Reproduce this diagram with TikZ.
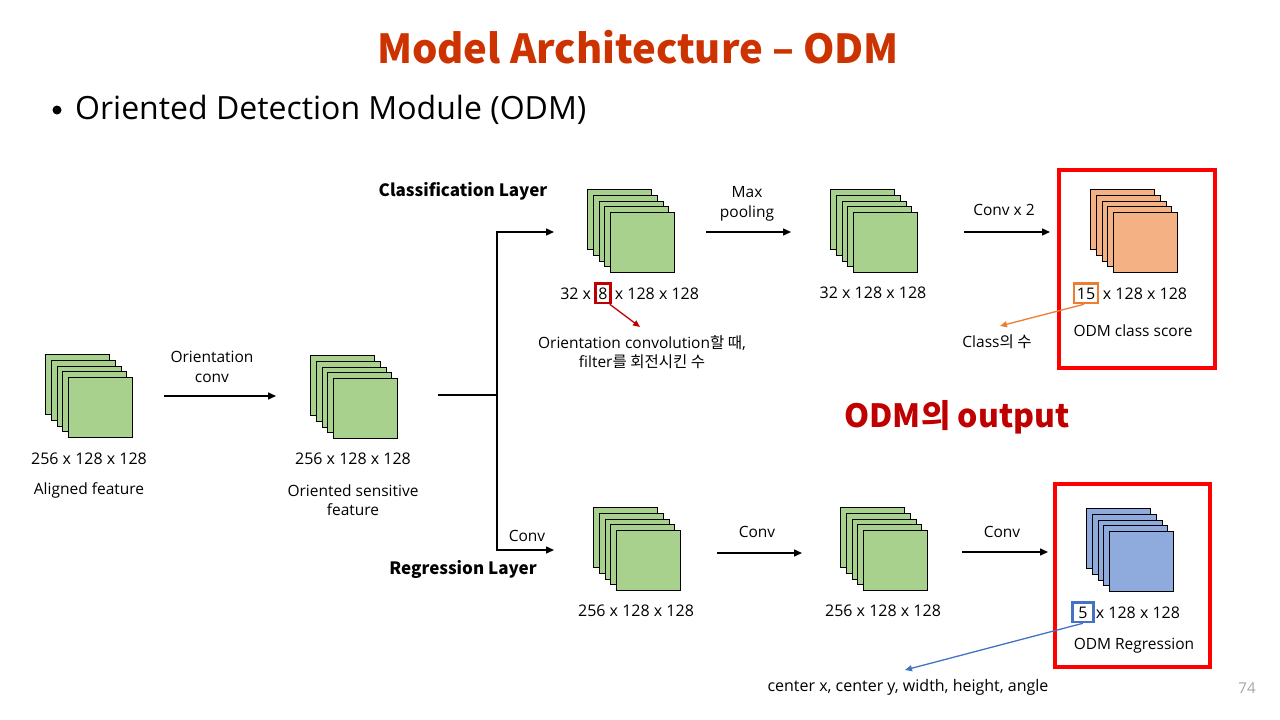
\documentclass[tikz,border=0pt]{standalone}
\usepackage{fontspec}
\setmainfont{Open Sans}
\newfontfamily\kr{Noto Sans CJK KR}
\usetikzlibrary{arrows.meta}
\definecolor{sqgreen}{HTML}{A9D18E}
\definecolor{sqorange}{HTML}{F4B183}
\definecolor{sqblue}{HTML}{8FAADC}
\definecolor{titlered}{HTML}{CC3300}
\definecolor{darkred}{HTML}{C00000}
\definecolor{accorange}{HTML}{ED7D31}
\definecolor{accblue}{HTML}{4472C4}
\newcommand{\fstack}[4]{%
  \foreach \i in {0,...,4} {%
    \node[sqbox, fill=#4, name=#1-\i] at ({#2+5.8*\i},{#3+5.8*\i}) {};
  }%
}
\begin{document}
\begin{tikzpicture}[x=1pt,y=-1pt,
  sqbox/.style={draw=black, line width=0.8pt, minimum width=64pt, minimum height=60pt, anchor=north west, inner sep=0pt},
  lbl/.style={font=\fontsize{15.5}{19.5}\selectfont, inner sep=0pt, align=center},
  dim/.style={font=\fontsize{16}{19.5}\selectfont, inner sep=0pt, align=center},
  hdr/.style={font=\kr\fontsize{17}{20}\selectfont\bfseries, inner sep=0pt},
  arr/.style={line width=1.5pt, -{Triangle[length=8pt,width=7pt]}},
  ln/.style={line width=1.5pt},
  bigbox/.style={draw=red, line width=3.5pt, inner sep=0pt, anchor=north west},
  markbox/.style={inner ysep=4pt, anchor=base},
  ann/.style={line width=1.3pt, -{Triangle[length=7pt,width=6pt]}}
]
\useasboundingbox (0,0) rectangle (1280,720);
\fill[white] (0,0) rectangle (1280,720);

% title and bullet
\node[font=\kr\fontsize{40}{46}\selectfont\bfseries, text=titlered, inner sep=0pt] (title) at (638,47) {Model Architecture – ODM};
\node[circle, fill=black, inner sep=0pt, minimum size=9pt] (dot) at (57,110) {};
\node[font=\fontsize{32}{36}\selectfont, inner sep=0pt, anchor=west] (bullet) at (75,110) {Oriented Detection Module (ODM)};

% stacks
\fstack{sA}{45}{354}{sqgreen}
\fstack{sB}{310}{355}{sqgreen}
\fstack{cA}{587}{189}{sqgreen}
\fstack{cB}{830}{189}{sqgreen}
\fstack{cC}{1090}{189}{sqorange}
\fstack{rA}{593}{507}{sqgreen}
\fstack{rB}{840}{507}{sqgreen}
\fstack{rC}{1086}{508}{sqblue}

% labels under stacks
\node[dim] (tA) at (89,459) {256 x 128 x 128};
\node[lbl] (tA2) at (89,490) {Aligned feature};
\node[dim] (tB) at (353,459) {256 x 128 x 128};
\node[lbl] (tB2) at (353,500) {Oriented sensitive\\feature};
\node[dim, markbox, draw=darkred, line width=2.2pt, inner xsep=3pt] (m8) at (603,299) {8};
\node[dim, anchor=base east] (tcAl) at ([xshift=-3pt]m8.base west) {32 x};
\node[dim, anchor=base west] (tcAr) at ([xshift=3pt]m8.base east) {x 128 x 128};
\node[dim] (tcB) at (873,293) {32 x 128 x 128};
\node[dim, markbox, draw=accorange, line width=2.2pt, inner xsep=2.5pt] (m15) at (1086,299) {15};
\node[dim, anchor=base west] (tcC) at ([xshift=4pt]m15.base east) {x 128 x 128};
\node[lbl] (tcC2) at (1133,331) {ODM class score};
\node[dim] (trA) at (636,611) {256 x 128 x 128};
\node[dim] (trB) at (883,611) {256 x 128 x 128};
\node[dim, markbox, draw=accblue, line width=2.2pt, inner xsep=6pt] (m5) at (1083,618) {5};
\node[dim, anchor=base west] (trC) at ([xshift=1pt]m5.base east) {x 128 x 128};
\node[lbl] (trC2) at (1134,646) {ODM Regression};

% headers
\node[hdr] (hC) at (463,191) {Classification Layer};
\node[hdr] (hR) at (463,569) {Regression Layer};

% arrow labels
\node[lbl] (l1) at (212,367) {Orientation\\conv};
\node[lbl] (l2) at (747,204) {Max\\pooling};
\node[lbl] (l3) at (1004,210) {Conv x 2};
\node[lbl] (l4) at (527,536) {Conv};
\node[lbl] (l5) at (757,532) {Conv};
\node[lbl] (l6) at (1002,532) {Conv};

% arrow endpoints
\coordinate (a1s) at (164,396); \coordinate (a1e) at (276,396);
\coordinate (bs) at (438,395); \coordinate (bj) at (497,395);
\coordinate (bt) at (497,232); \coordinate (bte) at (554,232);
\coordinate (bb) at (497,550); \coordinate (bbe) at (554,550);
\coordinate (a2s) at (706,232); \coordinate (a2e) at (791,232);
\coordinate (a3s) at (964,232); \coordinate (a3e) at (1050,232);
\coordinate (a4s) at (717,553); \coordinate (a4e) at (802,553);
\coordinate (a5s) at (962,552); \coordinate (a5e) at (1048,552);

\draw[arr] (a1s) -- (a1e);
\draw[ln] (bs) -- (bj);
\draw[arr] (bj) -- (bt) -- (bte);
\draw[arr] (bj) -- (bb) -- (bbe);
\draw[arr] (a2s) -- (a2e);
\draw[arr] (a3s) -- (a3e);
\draw[arr] (a4s) -- (a4e);
\draw[arr] (a5s) -- (a5e);

% output boxes
\node[bigbox, minimum width=156pt, minimum height=198pt] (outC) at (1057,168) {};
\node[bigbox, minimum width=155pt, minimum height=183pt] (outR) at (1053,482) {};

% annotation texts
\node[lbl] (n8) at (642,352) {Orientation convolution{\kr 할 때},\\filter{\kr 를 회전시킨 수}};
\node[lbl] (n15) at (997,342) {Class{\kr 의 수}};
\node[font=\fontsize{16}{19}\selectfont, inner sep=0pt] (n5) at (908,687) {center x, center y, width, height, angle};
\coordinate (e8) at (640,327);
\coordinate (e15) at (1000,326);
\coordinate (e5) at (905,670);
\draw[ann, draw=darkred] ([xshift=-2pt]m8.south east) -- (e8);
\draw[ann, draw=accorange] ([xshift=-2pt]m15.south) -- (e15);
\draw[ann, draw=accblue] (m5.south) -- (e5);

% output header
\node[font=\kr\fontsize{32}{36}\selectfont\bfseries, text=darkred, inner sep=0pt] (outlbl) at (957,417) {ODM의 output};

% page number
\node[font=\fontsize{15}{18}\selectfont, text=gray!70, inner sep=0pt] (pg) at (1247,688) {74};
\end{tikzpicture}
\end{document}
